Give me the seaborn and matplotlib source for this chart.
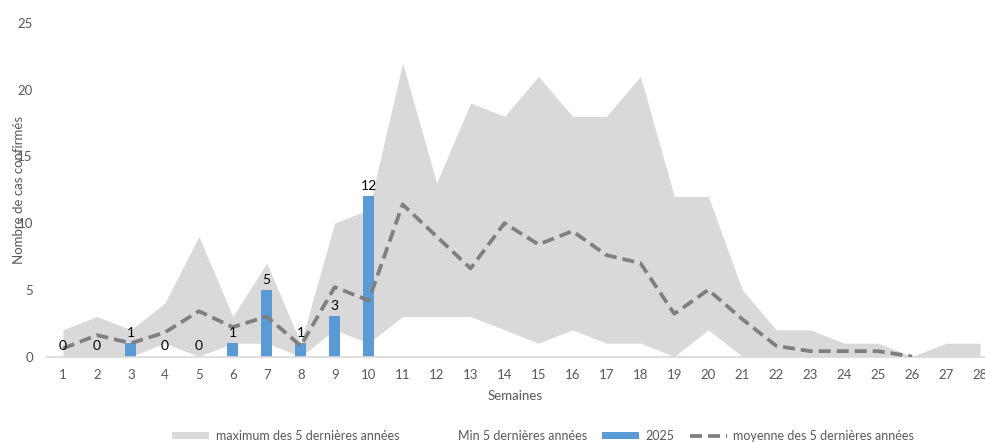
import numpy as np
import pandas as pd
import matplotlib
matplotlib.use("Agg")
import matplotlib.pyplot as plt
import seaborn as sns
from matplotlib.patches import Patch
from matplotlib.lines import Line2D

# Weekly surveillance data
weeks = list(range(1, 29))
max_5y = [2, 3, 2, 4, 9, 3, 7, 1, 10, 11, 22, 13, 19, 18, 21, 18, 18, 21,
          12, 12, 5, 2, 2, 1, 1, 0, 1, 1]
min_5y = [0, 0, 0, 1, 0, 1, 1, 0, 2, 1, 3, 3, 3, 2, 1, 2, 1, 1,
          0, 2, 0, 0, 0, 0, 0, 0, 0, 0]
mean_5y = [0.6, 1.6, 1.0, 1.8, 3.4, 2.2, 3.0, 0.8, 5.2, 4.2, 11.4, 9.0, 6.6, 10.0,
           8.4, 9.4, 7.6, 7.0, 3.2, 5.0, 2.8, 0.8, 0.4, 0.4, 0.4, 0.0]
cases_2025 = [0, 0, 1, 0, 0, 1, 5, 1, 3, 12]

labels = ["maximum des 5 dernières années", "Min 5 dernières années",
          "2025", "moyenne des 5 dernières années"]

GREY_FILL = "#D9D9D9"
BLUE = "#5B9BD5"
DASH = "#7F7F7F"
TEXT = "#595959"

sns.set_theme(style="white")
plt.rcParams["font.family"] = ["Lato", "DejaVu Sans"]

fig = plt.figure(figsize=(9.85, 4.42), dpi=100)
ax = fig.add_axes([46 / 985, 85.5 / 442, 951 / 985, 333.5 / 442])

# Range between the 5-year minimum and maximum
ax.fill_between(weeks, min_5y, max_5y, color=GREY_FILL, linewidth=0, zorder=1)

# 2025 weekly counts
bars_df = pd.DataFrame({"semaine": weeks[:len(cases_2025)], "cas": cases_2025})
sns.barplot(data=bars_df, x="semaine", y="cas", native_scale=True, width=0.32,
            color=BLUE, saturation=1, linewidth=0, ax=ax, zorder=2)

# 5-year mean
mean_df = pd.DataFrame({"semaine": weeks[:len(mean_5y)], "moyenne": mean_5y})
sns.lineplot(data=mean_df, x="semaine", y="moyenne", ax=ax, color=DASH,
             linewidth=2.7, zorder=3)
ax.lines[-1].set_dashes([3.2, 1.6])
ax.lines[-1].set_dash_capstyle("butt")

# Value labels on the 2025 bars
for w, v in zip(weeks, cases_2025):
    ax.annotate(str(v), (w, v), xytext=(0, 3), textcoords="offset points",
                ha="center", va="bottom", fontsize=10, color="black", zorder=4)

ax.set_xlim(0.5, 28.5)
ax.set_ylim(0, 25)
ax.set_xticks(weeks)
ax.set_xticklabels([str(w) for w in weeks])
ax.set_yticks([0, 5, 10, 15, 20, 25])
ax.tick_params(axis="both", length=0, labelsize=9.5, labelcolor=TEXT)
ax.tick_params(axis="x", pad=9)
ax.tick_params(axis="y", pad=9.5)

for s in ["top", "right", "left"]:
    ax.spines[s].set_visible(False)
ax.spines["bottom"].set_color(GREY_FILL)
ax.spines["bottom"].set_linewidth(1.2)
ax.grid(False)

ax.set_xlabel("Semaines", fontsize=9.5, color=TEXT)
ax.xaxis.set_label_coords((515 - 46) / 951, (356.5 - 390) / 333.5)
ax.set_ylabel("Nombre de cas confirmés", fontsize=9.5, color=TEXT)
ax.yaxis.set_label_coords((25.5 - 46) / 951, 0.5)

handles = [
    Patch(facecolor=GREY_FILL, edgecolor="none"),
    Patch(facecolor="white", edgecolor="none"),
    Patch(facecolor=BLUE, edgecolor="none"),
    Line2D([0], [0], color=DASH, linewidth=2.7, dashes=[3.2, 1.6]),
]
fig.legend(handles, labels, loc="center", bbox_to_anchor=(543 / 985, 1 - 436 / 442),
           ncol=4, frameon=False, fontsize=9, labelcolor=TEXT,
           handlelength=3.0, handleheight=0.55, handletextpad=0.5,
           columnspacing=1.2, borderaxespad=0, borderpad=0)

fig.savefig("out.png", dpi=100)
